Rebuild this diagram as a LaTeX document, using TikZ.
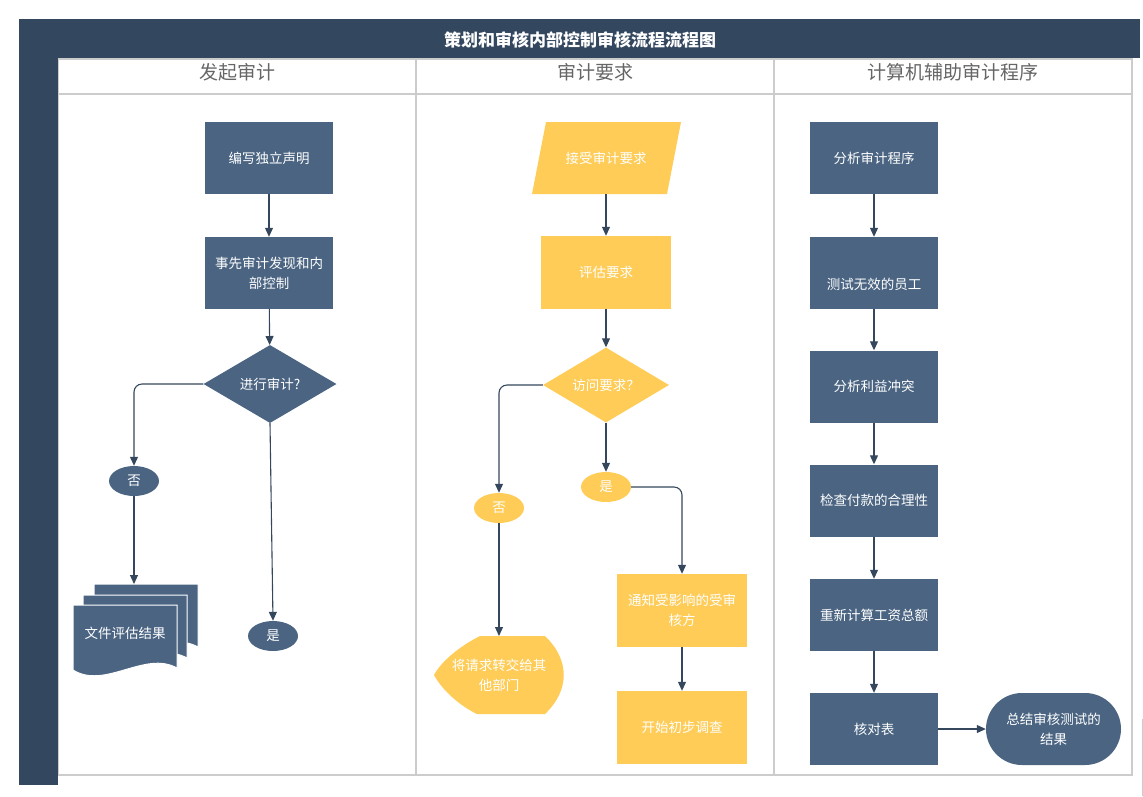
\documentclass[tikz,border=0pt]{standalone}
\usepackage{fontspec}
\newfontfamily\cjk{Noto Sans CJK SC}
\usepackage{tikz}
\usetikzlibrary{arrows.meta,shapes.geometric}
\definecolor{slate}{HTML}{4A6482}
\definecolor{navy}{HTML}{33475E}
\definecolor{gold}{HTML}{FECC57}
\definecolor{lane}{HTML}{CCCCCC}
\definecolor{wire}{HTML}{34475C}

\begin{document}
\begin{tikzpicture}[x=1pt,y=-1pt,
    txt/.style={text=white,align=center,inner sep=0pt,font=\cjk\fontsize{13.5}{20}\selectfont},
    box/.style={txt,rectangle,fill=slate,minimum width=128pt,minimum height=72pt},
    ybox/.style={box,fill=gold,minimum width=130pt,minimum height=73pt},
    oval/.style={txt,ellipse,fill=slate,minimum width=50pt,minimum height=30pt},
    decide/.style={txt,diamond,aspect=1.7,fill=slate,minimum width=133pt,minimum height=78pt},
    arr/.style={draw=wire,line width=1.1pt,-{Triangle[length=9pt,width=8pt]}}]
    \useasboundingbox (0,0) rectangle (1143,796);

    % lanes
    \draw[lane,line width=1.2pt] (58,59) rectangle (1132,775);
    \draw[lane,line width=2pt] (58,94) -- (1132,94);
    \draw[lane,line width=1.2pt] (416,59) -- (416,775);
    \draw[lane,line width=1.2pt] (774,59) -- (774,775);
    \draw[lane,line width=1pt] (1142,719) -- (1142,796);
    \fill[navy] (19,19) rectangle (1140,58);
    \fill[navy] (19,19) rectangle (58,785);
    \node[font=\cjk\bfseries\fontsize{17}{20}\selectfont,text=white] (title) at (580,40) {策划和审核内部控制审核流程流程图};
    \node[font=\cjk\fontsize{19}{22}\selectfont,text=black!60] (lane1) at (237,72) {发起审计};
    \node[font=\cjk\fontsize{19}{22}\selectfont,text=black!60] (lane2) at (595,72) {审计要求};
    \node[font=\cjk\fontsize{19}{22}\selectfont,text=black!60] (lane3) at (953,72) {计算机辅助审计程序};

    % first lane
    \node[box] (stmt) at (269,158) {编写独立声明};
    \node[box] (prior) at (269,273) {事先审计发现和内\\部控制};
    \node[decide] (doaudit) at (270,384) {进行审计?};
    \node[oval] (no1) at (134,481) {否};
    \node[oval] (yes1) at (273,636) {是};
    \foreach \s in {21,10,0}
        \draw[fill=slate,draw=white,line width=1pt] ({73+\s},{605-\s}) -- ({177+\s},{605-\s}) -- ({177+\s},{668-\s})
            .. controls ({145+\s},{650-\s}) and ({105+\s},{690-\s}) .. ({73+\s},{670-\s}) -- cycle;
    \node[txt] (docs) at (125,633) {文件评估结果};
    \coordinate (docsin) at (134,584);

    \draw[arr] (stmt) -- (prior);
    \draw[arr] (prior) -- (doaudit);
    \draw[arr,rounded corners=8pt] (doaudit.west) -| (no1.north);
    \draw[arr] (no1) -- (docsin);
    \draw[arr] (doaudit.south) -- (yes1.north);

    % second lane
    \fill[gold] (546,122) -- (681,122) -- (667,194) -- (532,194) -- cycle;
    \node[txt,minimum width=135pt,minimum height=72pt] (accept) at (606,158) {接受审计要求};
    \node[ybox] (assess) at (606,272.5) {评估要求};
    \node[decide,fill=gold,minimum width=126pt,minimum height=75pt] (access) at (606,385) {访问要求？};
    \node[oval,fill=gold] (yes2) at (606,487) {是};
    \node[oval,fill=gold] (no2) at (499,508) {否};
    \node[ybox] (notify) at (682,610.5) {通知受影响的受审\\核方};
    \node[ybox] (survey) at (682,727.5) {开始初步调查};
    \fill[gold] (480,636) .. controls (462,645) and (442,660) .. (434,675)
        .. controls (442,690) and (460,706) .. (477,714) -- (545,714)
        .. controls (570,690) and (570,660) .. (545,636) -- cycle;
    \node[txt] (forward) at (499,675) {将请求转交给其\\他部门};
    \coordinate (forwardin) at (499,636);

    \draw[arr] (accept) -- (assess);
    \draw[arr] (assess) -- (access);
    \draw[arr] (access) -- (yes2);
    \draw[arr,rounded corners=8pt] (access.west) -| (no2.north);
    \draw[arr] (no2) -- (forwardin);
    \draw[arr,rounded corners=8pt] (yes2.east) -| (notify.north);
    \draw[arr] (notify) -- (survey);

    % third lane
    \node[box] (review) at (874,158) {分析审计程序};
    \node[box] (staff) at (874,273) {};
    \node[txt] (stafftext) at (874,284) {测试无效的员工};
    \node[box] (conflict) at (874,386.5) {分析利益冲突};
    \node[box] (payment) at (874,500.5) {检查付款的合理性};
    \node[box] (payroll) at (874,615) {重新计算工资总额};
    \node[box] (check) at (874,729) {核对表};
    \node[txt,rectangle,rounded corners=36pt,fill=slate,minimum width=135pt,minimum height=72pt] (summary) at (1053.5,729) {总结审核测试的\\结果};

    \draw[arr] (review) -- (staff);
    \draw[arr] (staff) -- (conflict);
    \draw[arr] (conflict) -- (payment);
    \draw[arr] (payment) -- (payroll);
    \draw[arr] (payroll) -- (check);
    \draw[arr] (check) -- (summary);
\end{tikzpicture}
\end{document}
